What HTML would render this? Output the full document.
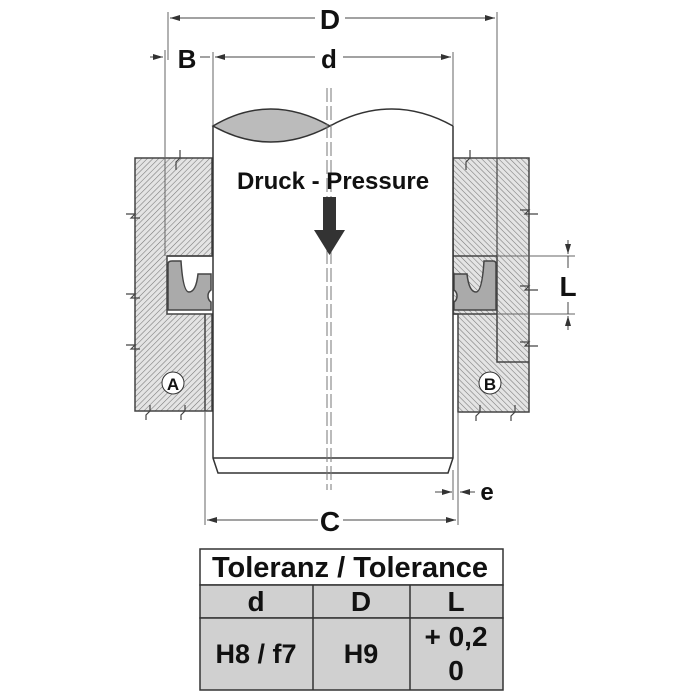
<!DOCTYPE html>
<html><head><style>
body{margin:0;background:#fff;}
svg{display:block;}
text{font-family:"Liberation Sans",sans-serif;font-weight:bold;fill:#111;}
</style></head><body>
<svg width="700" height="700" viewBox="0 0 700 700" xmlns="http://www.w3.org/2000/svg">
<defs>
<pattern id="h1" patternUnits="userSpaceOnUse" width="4" height="4" patternTransform="rotate(45)">
<rect width="4" height="4" fill="#e4e4e4"/><line x1="0" y1="0" x2="0" y2="4" stroke="#777" stroke-width="1.1"/></pattern>
<pattern id="h2" patternUnits="userSpaceOnUse" width="4" height="4" patternTransform="rotate(-45)">
<rect width="4" height="4" fill="#e4e4e4"/><line x1="0" y1="0" x2="0" y2="4" stroke="#777" stroke-width="1.1"/></pattern>
<marker id="ar" markerWidth="10" markerHeight="6" refX="10" refY="3" orient="auto" markerUnits="userSpaceOnUse"><path d="M0,0 L10,3 L0,6 Z" fill="#333"/></marker>
</defs>
<g stroke="#444" stroke-width="1.5">
<path d="M135,158 H212 V256 H167 V314 H212 V411 H135 Z" fill="url(#h1)"/>
<line x1="205" y1="314" x2="205" y2="411"/>
<path d="M453,158 H529 V412 H458 V314 H453 V256 H453 Z" fill="url(#h2)"/>
<path d="M497,256 V362 H529" fill="none"/>
<line x1="453" y1="256" x2="497" y2="256"/>
<line x1="453" y1="314" x2="497" y2="314"/>
<line x1="167" y1="256" x2="212" y2="256"/>
<path d="M168,264 Q168,261 172,261 H181 Q183,292 189,292 Q196,292 198,274 L211,274 V290 Q208,292 208,296 Q208,300 211,302 V310 H168 Z" fill="#aaa"/>
<path d="M454,274 H467 Q469,292 476,292 Q482,292 484,261 H493 Q496,261 496,264 V310 H454 V302 Q457,300 457,296 Q457,292 454,290 Z" fill="#aaa"/>
</g>
<g stroke="#444" stroke-width="1.2" fill="none">
<path d="M126,214 L135,214 L131,218 L140,218"/>
<path d="M126,294 L135,294 L131,298 L140,298"/>
<path d="M126,345 L135,345 L131,349 L140,349"/>
<path d="M180,150 L180,158 L176,162 L176,170"/>
<path d="M150,405 L150,411 L146,415 L146,420"/>
<path d="M185,405 L185,411 L181,415 L181,420"/>
<path d="M470,150 L470,158 L466,162 L466,170"/>
<path d="M520,210 L529,210 L525,214 L538,214"/>
<path d="M520,286 L529,286 L525,290 L538,290"/>
<path d="M520,342 L529,342 L525,346 L538,346"/>
<path d="M480,405 L480,412 L476,416 L476,421"/>
<path d="M515,405 L515,412 L511,416 L511,421"/>
</g>
<g stroke="#666" stroke-width="1" fill="none">
<line x1="165" y1="50" x2="165" y2="256"/>
<line x1="497" y1="12" x2="497" y2="158"/>
<line x1="497" y1="158" x2="497" y2="256" stroke="#444" stroke-width="1.2"/>
<line x1="168" y1="12" x2="168" y2="60"/>
<line x1="213" y1="52" x2="213" y2="126"/>
<line x1="453" y1="52" x2="453" y2="126"/>
<line x1="205" y1="411" x2="205" y2="525"/>
<line x1="458" y1="412" x2="458" y2="525"/>
<line x1="453" y1="470" x2="453" y2="500"/>
<line x1="497" y1="256" x2="575" y2="256"/>
<line x1="497" y1="314" x2="575" y2="314"/>
</g>
<g stroke="#333" stroke-width="1.5">
<path d="M213,126 V458 L218,473 H448 L453,458 V126" fill="#fff"/>
<line x1="213" y1="458" x2="453" y2="458"/>
<path d="M213,126 Q270,92 330,126 Q270,158 213,126 Z" fill="#bbb"/>
<path d="M330,126 Q392,92 453,126" fill="none"/>
</g>
<g stroke="#777" stroke-width="1" stroke-dasharray="14,4">
<line x1="327" y1="88" x2="327" y2="490"/>
<line x1="331" y1="88" x2="331" y2="490"/>
</g>
<path d="M323,197 H336 V230 H345 L329.5,255 L314,230 H323 Z" fill="#333"/>
<text x="333" y="189" font-size="24" text-anchor="middle">Druck - Pressure</text>
<circle cx="173" cy="383" r="11" fill="#fff" stroke="#333"/>
<text x="173" y="390" font-size="17" text-anchor="middle">A</text>
<circle cx="490" cy="383" r="11" fill="#fff" stroke="#333"/>
<text x="490" y="390" font-size="17" text-anchor="middle">B</text>
<g stroke="#444" stroke-width="1" fill="none">
<line x1="315" y1="18" x2="170" y2="18" marker-end="url(#ar)"/>
<line x1="345" y1="18" x2="495" y2="18" marker-end="url(#ar)"/>
<line x1="150" y1="57" x2="163" y2="57" marker-end="url(#ar)"/>
<line x1="200" y1="57" x2="210" y2="57"/>
<line x1="315" y1="57" x2="215" y2="57" marker-end="url(#ar)"/>
<line x1="343" y1="57" x2="451" y2="57" marker-end="url(#ar)"/>
<line x1="318" y1="520" x2="207" y2="520" marker-end="url(#ar)"/>
<line x1="343" y1="520" x2="456" y2="520" marker-end="url(#ar)"/>
<line x1="435" y1="492" x2="452" y2="492" marker-end="url(#ar)"/>
<line x1="475" y1="492" x2="460" y2="492" marker-end="url(#ar)"/>
<line x1="568" y1="240" x2="568" y2="254" marker-end="url(#ar)"/>
<line x1="568" y1="330" x2="568" y2="316" marker-end="url(#ar)"/>
<line x1="568" y1="256" x2="568" y2="268"/>
<line x1="568" y1="302" x2="568" y2="314"/>
</g>
<text x="330" y="29" font-size="28" text-anchor="middle">D</text>
<text x="187" y="68" font-size="26" text-anchor="middle">B</text>
<text x="329" y="68" font-size="26" text-anchor="middle">d</text>
<text x="330" y="531" font-size="28" text-anchor="middle">C</text>
<text x="487" y="500" font-size="24" text-anchor="middle">e</text>
<text x="568" y="296" font-size="28" text-anchor="middle">L</text>
<g stroke="#333" stroke-width="1.5">
<rect x="200" y="549" width="303" height="36" fill="#fff"/>
<rect x="200" y="585" width="303" height="33" fill="#d0d0d0"/>
<rect x="200" y="618" width="303" height="72" fill="#d0d0d0"/>
<line x1="313" y1="585" x2="313" y2="690"/>
<line x1="410" y1="585" x2="410" y2="690"/>
</g>
<text x="350" y="577" font-size="29" text-anchor="middle">Toleranz / Tolerance</text>
<text x="256" y="611" font-size="28" text-anchor="middle">d</text>
<text x="361" y="611" font-size="28" text-anchor="middle">D</text>
<text x="456" y="611" font-size="28" text-anchor="middle">L</text>
<text x="256" y="663" font-size="27" text-anchor="middle">H8 / f7</text>
<text x="361" y="663" font-size="27" text-anchor="middle">H9</text>
<text x="456" y="646" font-size="28" text-anchor="middle">+ 0,2</text>
<text x="456" y="680" font-size="28" text-anchor="middle">0</text>
</svg>
</body></html>
